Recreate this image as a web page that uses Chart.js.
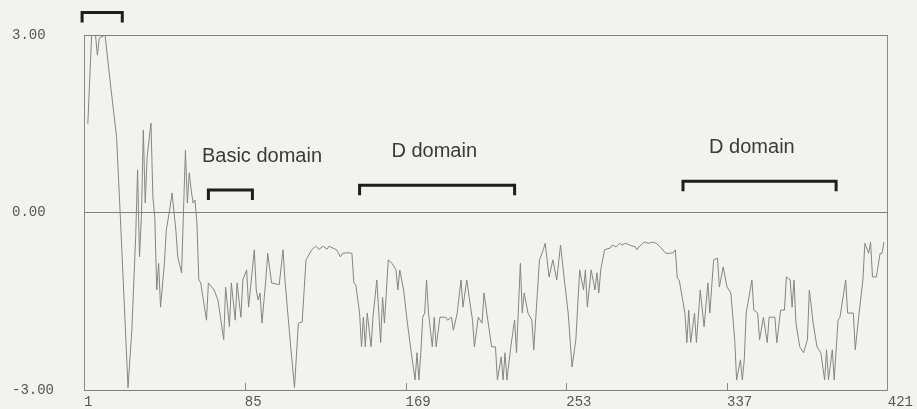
<!DOCTYPE html>
<html lang="en">
<head>
<meta charset="UTF-8">
<title>Hydropathy profile</title>
<script src="https://cdn.jsdelivr.net/npm/chart.js"></script>
<style>
    html, body { margin: 0; padding: 0; background: #f2f2f1; }
    .wrap { width: 917px; height: 409px; }
</style>
</head>
<body>
<div class="wrap"><canvas id="chart" width="917" height="409"></canvas></div>
<script>
// residue number and hydropathy value
const residues = [
    3, 5, 7, 8, 9, 12, 15, 18, 20, 24, 26, 28, 29, 30, 31, 32, 33, 34, 36, 37,
    38, 39, 40, 41, 43, 44, 46, 47, 49, 50, 52, 53, 54, 55, 56, 57, 58, 59, 60, 61,
    62, 65, 66, 69, 71, 74, 75, 77, 78, 80, 81, 83, 84, 86, 87, 90, 91, 92, 93, 94,
    96, 97, 99, 103, 105, 106, 109, 111, 113, 115, 117, 120, 122, 124, 126, 128, 129, 131, 133, 134,
    135, 136, 139, 141, 142, 143, 145, 146, 147, 148, 149, 151, 152, 154, 156, 157, 158, 160, 162, 164,
    165, 166, 168, 170, 172, 174, 175, 176, 177, 178, 179, 180, 181, 183, 184, 185, 187, 190, 191, 193,
    194, 196, 198, 199, 201, 203, 204, 205, 207, 209, 210, 212, 214, 216, 217, 219, 220, 221, 222, 224,
    226, 227, 229, 230, 231, 233, 235, 236, 239, 241, 242, 244, 246, 248, 250, 252, 254, 256, 258, 260,
    262, 263, 264, 266, 268, 269, 270, 271, 273, 276, 277, 279, 281, 282, 284, 286, 289, 290, 291, 293,
    294, 296, 298, 300, 302, 305, 307, 309, 310, 311, 312, 315, 316, 317, 318, 320, 321, 323, 325, 327,
    328, 330, 332, 333, 335, 337, 339, 341, 342, 344, 345, 346, 347, 350, 351, 353, 354, 356, 358, 359,
    362, 363, 365, 367, 368, 370, 371, 372, 373, 375, 377, 379, 380, 382, 384, 386, 388, 389, 390, 392,
    393, 395, 396, 399, 400, 403, 404, 406, 408, 409, 411, 412, 413, 415, 417, 418, 419
];
const hydropathy = [
    1.5, 3.0, 3.0, 2.66, 2.95, 3.0, 2.12, 1.28, -0.08, -2.96, -1.98, -0.41, 0.72, -0.75, -0.08, 1.39, 0.16, 0.94, 1.51, 0.26,
    -0.08, -1.31, -0.86, -1.6, -0.86, -0.3, 0.09, 0.33, -0.3, -0.75, -1.02, 0.04, 1.05, 0.16, 0.67, 0.38, 0.16, 0.21, -0.18, -1.14,
    -1.19, -1.82, -1.19, -1.31, -1.48, -2.15, -1.26, -1.93, -1.19, -1.82, -1.19, -1.77, -1.14, -0.97, -1.6, -0.63, -1.31, -1.48, -1.36, -1.87,
    -1.14, -0.69, -1.19, -1.22, -0.63, -1.14, -2.27, -2.96, -1.87, -1.85, -0.8, -0.63, -0.57, -0.62, -0.57, -0.62, -0.57, -0.6, -0.63, -0.69,
    -0.75, -0.69, -0.68, -0.69, -1.19, -1.22, -1.7, -2.27, -1.77, -2.27, -1.7, -2.27, -1.77, -1.14, -2.2, -1.43, -1.87, -0.8, -0.86, -0.97,
    -1.31, -0.97, -1.31, -1.87, -2.37, -2.83, -2.37, -2.83, -2.37, -1.77, -1.7, -1.14, -1.7, -2.27, -1.77, -2.27, -1.77, -1.77, -1.82, -1.77,
    -1.99, -1.7, -1.14, -1.6, -1.14, -1.6, -1.82, -2.27, -1.77, -1.87, -1.36, -1.82, -2.27, -2.27, -2.83, -2.44, -2.83, -2.37, -2.83, -2.27,
    -1.82, -2.37, -0.86, -1.7, -1.36, -1.7, -1.82, -2.32, -0.8, -0.63, -0.52, -1.09, -0.8, -1.14, -0.55, -1.14, -1.7, -2.61, -2.15, -0.97,
    -1.31, -0.97, -1.6, -0.97, -1.31, -1.02, -1.36, -0.97, -0.63, -0.6, -0.55, -0.58, -0.52, -0.55, -0.52, -0.55, -0.58, -0.63, -0.58, -0.52,
    -0.5, -0.52, -0.5, -0.52, -0.58, -0.69, -0.69, -0.68, -0.63, -1.11, -1.14, -1.7, -2.2, -1.65, -2.2, -1.7, -2.2, -1.31, -1.93, -1.19,
    -1.7, -0.8, -0.77, -1.26, -0.92, -1.26, -1.36, -2.15, -2.83, -2.49, -2.83, -2.49, -1.7, -1.14, -1.65, -1.7, -2.15, -1.77, -2.2, -1.77,
    -1.77, -2.2, -1.65, -1.65, -1.09, -1.14, -1.6, -1.14, -1.87, -2.27, -2.37, -2.15, -1.31, -1.87, -2.27, -2.37, -2.83, -2.32, -2.83, -2.32,
    -2.83, -1.82, -1.77, -1.14, -1.7, -1.7, -2.32, -1.7, -1.14, -0.52, -0.69, -0.5, -1.09, -1.09, -0.69, -0.69, -0.5
];

const xTickValues = [1, 85, 169, 253, 337, 421];
const yTickValues = [-3, 0, 3];

// domain brackets (residue ranges), first one has no caption
const domainNames = ['', 'Basic domain', 'D domain', 'D domain'];
const domainStart = [0, 66, 145, 314];
const domainEnd = [21, 89, 226, 394];
const domainLevel = [3.38, 0.38, 0.46, 0.53];
const domainLabelAt = [null, 94, 184, 350];

const monoFont = '"Liberation Mono", "DejaVu Sans Mono", monospace';

const extras = {
    id: 'extras',
    afterDatasetsDraw(chart) {
        const { ctx, chartArea, scales: { x, y } } = chart;
        ctx.save();

        // short tick marks pointing into the plot
        ctx.strokeStyle = '#8a8a8a';
        ctx.lineWidth = 1;
        xTickValues.slice(1, -1).forEach(v => {
            const px = Math.round(x.getPixelForValue(v)) + 0.5;
            ctx.beginPath();
            ctx.moveTo(px, chartArea.bottom);
            ctx.lineTo(px, chartArea.bottom - 7);
            ctx.stroke();
        });

        ctx.strokeStyle = '#1e1e1e';
        ctx.lineWidth = 3;
        ctx.font = '20px "Liberation Sans", Arial, sans-serif';
        ctx.fillStyle = '#3a3a3a';
        ctx.textAlign = 'center';
        ctx.textBaseline = 'middle';
        domainNames.forEach((name, i) => {
            const x0 = x.getPixelForValue(domainStart[i]);
            const x1 = x.getPixelForValue(domainEnd[i]);
            const yy = y.getPixelForValue(domainLevel[i]);
            ctx.beginPath();
            ctx.moveTo(x0, yy + 10);
            ctx.lineTo(x0, yy);
            ctx.lineTo(x1, yy);
            ctx.lineTo(x1, yy + 10);
            ctx.stroke();
            if (name) {
                ctx.fillText(name, x.getPixelForValue(domainLabelAt[i]), yy - 34);
            }
        });
        ctx.restore();
    }
};

new Chart(document.getElementById('chart'), {
    type: 'line',
    data: {
        datasets: [{
            data: residues.map((r, i) => ({ x: r, y: hydropathy[i] })),
            borderColor: '#858585',
            borderWidth: 1,
            pointRadius: 0,
            tension: 0,
            fill: false
        }]
    },
    options: {
        responsive: false,
        devicePixelRatio: 1,
        animation: false,
        layout: { padding: { left: 12, top: 35, right: 28, bottom: 0 } },
        plugins: {
            legend: { display: false },
            tooltip: { enabled: false }
        },
        scales: {
            x: {
                type: 'linear',
                min: 1,
                max: 421,
                afterBuildTicks: scale => { scale.ticks = xTickValues.map(v => ({ value: v })); },
                afterFit: scale => { scale.height = 19; },
                border: { display: false },
                grid: {
                    drawTicks: false,
                    color: c => (c.index === 0 || c.index === xTickValues.length - 1) ? '#8a8a8a' : 'rgba(0,0,0,0)'
                },
                ticks: {
                    align: 'start',
                    autoSkip: false,
                    maxRotation: 0,
                    padding: 4,
                    color: '#555',
                    font: { family: monoFont, size: 14 },
                    callback: v => String(v)
                }
            },
            y: {
                min: -3,
                max: 3,
                afterBuildTicks: scale => { scale.ticks = yTickValues.map(v => ({ value: v })); },
                afterFit: scale => { scale.width = 72; },
                border: { display: false },
                grid: { drawTicks: false, color: '#808080' },
                ticks: {
                    crossAlign: 'far',
                    padding: 0,
                    color: '#555',
                    font: { family: monoFont, size: 14 },
                    callback: v => v.toFixed(2)
                }
            }
        }
    },
    plugins: [extras]
});
</script>
</body>
</html>
